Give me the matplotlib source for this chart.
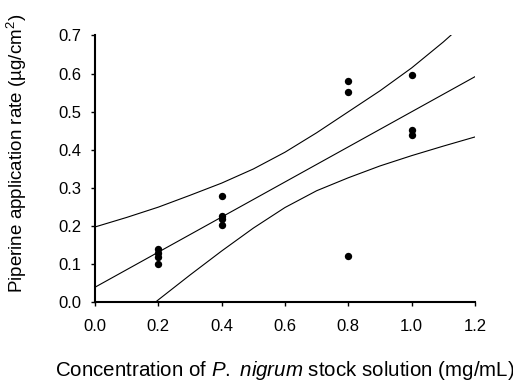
import matplotlib
matplotlib.use("Agg")
import matplotlib.pyplot as plt

plt.rcParams['font.family'] = ['Liberation Sans', 'DejaVu Sans']
plt.rcParams['mathtext.fontset'] = 'custom'
plt.rcParams['mathtext.rm'] = 'Liberation Sans'
plt.rcParams['mathtext.it'] = 'Liberation Sans:italic'

# Observed data
conc = [0.2, 0.2, 0.2, 0.2, 0.4, 0.4, 0.4, 0.4, 0.8, 0.8, 0.8, 1.0, 1.0, 1.0]
rate = [0.139, 0.130, 0.120, 0.100, 0.280, 0.228, 0.220, 0.204, 0.580, 0.551, 0.122, 0.597, 0.452, 0.438]

# Regression line
fit_x = [0.0, 1.2]
fit_y = [0.040, 0.592]

# Confidence band curves
band_x = [0.0, 0.1, 0.2, 0.3, 0.4, 0.5, 0.6, 0.7, 0.8, 0.9, 1.0, 1.1, 1.2]
upper = [0.198, 0.223, 0.250, 0.281, 0.313, 0.350, 0.394, 0.445, 0.500, 0.555, 0.615, 0.683, 0.757]
lower = [-0.130, -0.062, 0.007, 0.072, 0.135, 0.195, 0.249, 0.293, 0.327, 0.358, 0.385, 0.410, 0.434]

xticks = [0.0, 0.2, 0.4, 0.6, 0.8, 1.0, 1.2]
yticks = [0.0, 0.1, 0.2, 0.3, 0.4, 0.5, 0.6, 0.7]

fig = plt.figure(figsize=(5.13, 3.80), dpi=100)
ax = fig.add_axes([0.1852, 0.204, 0.7407, 0.7026])

ax.plot(band_x, upper, color='black', lw=0.8)
ax.plot(band_x, lower, color='black', lw=0.8)
ax.plot(fit_x, fit_y, color='black', lw=0.8)
ax.plot(conc, rate, 'o', color='black', ms=5.3, markeredgewidth=0)

ax.set_xlim(0, 1.2)
ax.set_ylim(0, 0.7)
ax.set_xticks(xticks)
ax.set_yticks(yticks)
ax.set_xticklabels([f"{v:.1f}" for v in xticks])
ax.set_yticklabels([f"{v:.1f}" for v in yticks])

for s in ['top', 'right']:
    ax.spines[s].set_visible(False)
for s in ['left', 'bottom']:
    ax.spines[s].set_linewidth(1.5)
ax.tick_params(axis='both', direction='out', length=3, width=1, labelsize=12)
ax.tick_params(axis='y', pad=6.5)
ax.tick_params(axis='x', pad=9)

fig.text(284.5 / 513, 1 - 370 / 380,
         r"Concentration of $\mathit{P.}$ $\mathit{nigrum}$ stock solution (mg/mL)",
         fontsize=14.8, ha='center', va='center')
fig.text(17 / 513, 1 - 153 / 380,
         r"Piperine application rate (µg/cm$^2$)",
         fontsize=13.5, ha='center', va='center', rotation=90)

fig.savefig("out.png", dpi=100)
